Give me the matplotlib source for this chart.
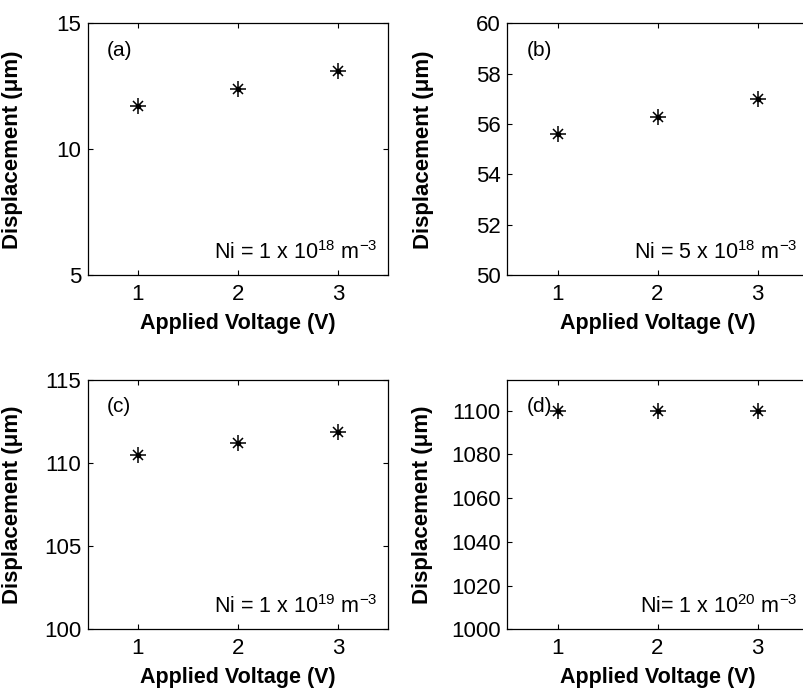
import matplotlib
matplotlib.use("Agg")
import matplotlib.pyplot as plt

plt.rcParams['font.family'] = ['Liberation Sans', 'DejaVu Sans']
plt.rcParams['mathtext.fontset'] = 'custom'
plt.rcParams['mathtext.rm'] = 'Liberation Sans'
plt.rcParams['mathtext.it'] = 'Liberation Sans:italic'
plt.rcParams['mathtext.bf'] = 'Liberation Sans:bold'

voltage = [1, 2, 3]
disp_a = [11.7, 12.4, 13.1]
disp_b = [55.6, 56.3, 57.0]
disp_c = [110.5, 111.2, 111.9]
disp_d = [1100, 1100, 1100]

panel_labels = ['(a)', '(b)', '(c)', '(d)']
ni_labels = [r'Ni = 1 x 10$^{18}$ m$^{-3}$', r'Ni = 5 x 10$^{18}$ m$^{-3}$',
             r'Ni = 1 x 10$^{19}$ m$^{-3}$', r'Ni= 1 x 10$^{20}$ m$^{-3}$']
ylims = [(5, 15), (50, 60), (100, 115), (1000, 1114)]
yticks = [[5, 10, 15], [50, 52, 54, 56, 58, 60], [100, 105, 110, 115],
          [1000, 1020, 1040, 1060, 1080, 1100]]
xlabel = 'Applied Voltage (V)'
ylabel = 'Displacement (\u03bcm)'

W, H = 804, 690
fig = plt.figure(figsize=(W / 100, H / 100), dpi=100)

# axes boxes in pixels: (left, top, right, bottom)
boxes = [(88, 23.3, 388, 275.3), (507.5, 23.3, 807.5, 275.3),
         (88, 380, 388, 629.3), (507.5, 380, 807.5, 629.3)]
ylab_x = [23, 434, 23, 433]

data = [disp_a, disp_b, disp_c, disp_d]
for i in range(4):
    l, t, r, b = boxes[i]
    ax = fig.add_axes([l / W, 1 - b / H, (r - l) / W, (b - t) / H])
    ax.plot(voltage, data[i], linestyle='none', marker='+', ms=12, mew=1.1, color='black')
    ax.plot(voltage, data[i], linestyle='none', marker='x', ms=7, mew=1.1, color='black')
    ax.plot(voltage, data[i], linestyle='none', marker='o', ms=3, color='black')
    ax.set_xlim(0.5, 3.5)
    ax.set_ylim(*ylims[i])
    ax.set_xticks(voltage)
    ax.set_yticks(yticks[i])
    ax.tick_params(direction='in', top=True, right=True, length=3.5, width=0.8,
                   labelsize=16, pad=6)
    ax.tick_params(axis='y', pad=5)
    for s in ax.spines.values():
        s.set_linewidth(0.9)
    ax.set_xlabel(xlabel, fontsize=15.5, fontweight='bold', va='top')
    ax.set_ylabel(ylabel, fontsize=16, fontweight='bold')
    ax.xaxis.set_label_coords(0.5, -38 / (b - t))
    ax.yaxis.set_label_coords((ylab_x[i] - l) / (r - l), 0.5)
    ax.text(0.063, 0.893, panel_labels[i], transform=ax.transAxes, fontsize=15,
            ha='left', va='center')
    ax.text(0.965, 0.065, ni_labels[i], transform=ax.transAxes, fontsize=15.5,
            ha='right', va='baseline')

fig.savefig('out.png', dpi=100)
